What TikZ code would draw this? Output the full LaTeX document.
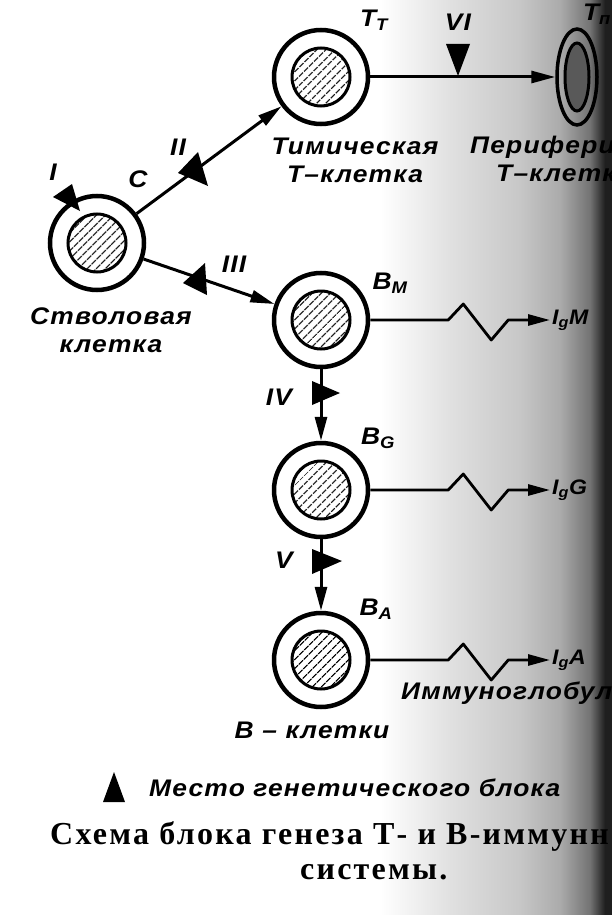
\documentclass[tikz,border=0pt]{standalone}
\usepackage{fontspec}
\setmainfont{Liberation Serif}
\newfontfamily\hand{Liberation Sans}[FakeStretch=1.1, LetterSpace=5]
\newfontfamily\capfont{Liberation Serif}[LetterSpace=7]
\usetikzlibrary{arrows.meta, patterns.meta, shapes.geometric}

\begin{document}
\begin{tikzpicture}[x=1pt, y=-1pt,
    cell/.style={circle, draw, line width=4.5pt, minimum size=94pt, inner sep=0pt,
      path picture={\draw[line width=3pt, pattern={Lines[angle=45, distance=6.5pt, line width=1.2pt]}]
        (path picture bounding box.center) circle[radius=29pt];}},
    pcell/.style={ellipse, draw, line width=3.5pt, minimum width=40pt, minimum height=96pt, inner sep=0pt,
      path picture={\draw[line width=3pt, fill=black!65]
        (path picture bounding box.center) ellipse[x radius=12pt, y radius=34pt];}},
    conn/.style={line width=3pt, -{Triangle[length=24pt, width=12pt]}},
    igline/.style={line width=2.8pt, line join=round, -{Triangle[length=22pt, width=11pt]}},
    block/.style={fill=black},
    lbl/.style={font=\hand\bfseries\itshape\fontsize{24}{28}\selectfont, inner sep=1pt},
    iglbl/.style={font=\hand\bfseries\itshape\fontsize{21}{24}\selectfont, inner sep=2pt, anchor=west},
    capt/.style={font=\capfont\bfseries\fontsize{32}{36}\selectfont, inner sep=0pt, anchor=west},
  ]

    \useasboundingbox (0,0) rectangle (612,915);
    \clip (0,0) rectangle (612,915);

    % Scan shadow on the right edge
    \shade[left color=white, right color=black!12] (380,0) rectangle (450,915);
    \shade[left color=black!12, right color=black!22] (450,0) rectangle (520,915);
    \shade[left color=black!22, right color=black!33] (520,0) rectangle (560,915);
    \shade[left color=black!33, right color=black!55] (560,0) rectangle (590,915);
    \shade[left color=black!55, right color=black!88] (590,0) rectangle (605,915);
    \fill[black!88] (605,0) rectangle (612,915);

    % Cells
    \node[cell] (C)  at (97,243) {};
    \node[cell] (Tt) at (321,77) {};
    \node[pcell] (Tp) at (577,77) {};
    \node[cell] (BM) at (321,320) {};
    \node[cell] (BG) at (321,490) {};
    \node[cell] (BA) at (321,660) {};

    % Immunoglobulin labels
    \node[iglbl] (igM) at (550,320) {I\textsubscript{g}M};
    \node[iglbl] (igG) at (550,490) {I\textsubscript{g}G};
    \node[iglbl] (igA) at (550,660) {I\textsubscript{g}A};

    % Pathways
    \draw[conn] (C) -- (Tt);
    \draw[conn] (C) -- (BM);
    \draw[conn] (Tt) -- (Tp);
    \draw[conn] (BM) -- (BG);
    \draw[conn] (BG) -- (BA);
    \foreach \b/\g in {BM/igM, BG/igG, BA/igA}
        \draw[igline] (\b.east) -- ++(78,0) -- ++(15,-16) -- ++(28,36) -- ++(17,-20) -- (\g.west);

    % Genetic blocks
    \fill[block] (53,197) -- (72,184) -- (80,211) -- cycle;
    \fill[block] (178,173) -- (198,152) -- (208,186) -- cycle;
    \fill[block] (205,263) -- (183,283) -- (207,295) -- cycle;
    \fill[block] (312,381) -- (312,405) -- (340,393) -- cycle;
    \fill[block] (312,549) -- (312,574) -- (342,561) -- cycle;
    \fill[block] (446,44) -- (470,44) -- (458,76) -- cycle;

    % Block numbers
    \node[lbl] (nI)   at (53,172)  {I};
    \node[lbl] (nII)  at (178,147) {II};
    \node[lbl] (nIII) at (234,264) {III};
    \node[lbl] (nIV)  at (279,397) {IV};
    \node[lbl] (nV)   at (284,560) {V};
    \node[lbl] (nVI)  at (458,22)  {VI};

    % Cell names
    \node[lbl] (lC)  at (138,179) {С};
    \node[lbl] (lTt) at (374,20)  {T\textsubscript{T}};
    \node[lbl] (lTp) at (597,14)  {T\textsubscript{п}};
    \node[lbl] (lBM) at (390,283) {B\textsubscript{M}};
    \node[lbl] (lBG) at (378,438) {B\textsubscript{G}};
    \node[lbl] (lBA) at (376,609) {B\textsubscript{A}};

    \node[lbl, align=center] (tStem) at (111,330) {Стволовая\\клетка};
    \node[lbl, align=center] (tThym) at (355,160) {Тимическая\\Т–клетка};
    \node[lbl, anchor=west] (tPer1) at (469,147) {Периферическая};
    \node[lbl, anchor=west] (tPer2) at (495,173) {Т–клетка};
    \node[lbl] (tB) at (312,730) {В – клетки};
    \node[lbl, anchor=west] (tIg) at (400,693) {Иммуноглобулины};

    % Legend and caption
    \fill[block] (103,802) -- (125,802) -- (114,772) -- cycle;
    \node[lbl, anchor=west] (legend) at (148,788) {Место генетического блока};
    \node[capt] (cap1) at (50,836) {Схема блока генеза Т- и В-иммунной};
    \node[capt] (cap2) at (300,872) {системы.};

\end{tikzpicture}
\end{document}
